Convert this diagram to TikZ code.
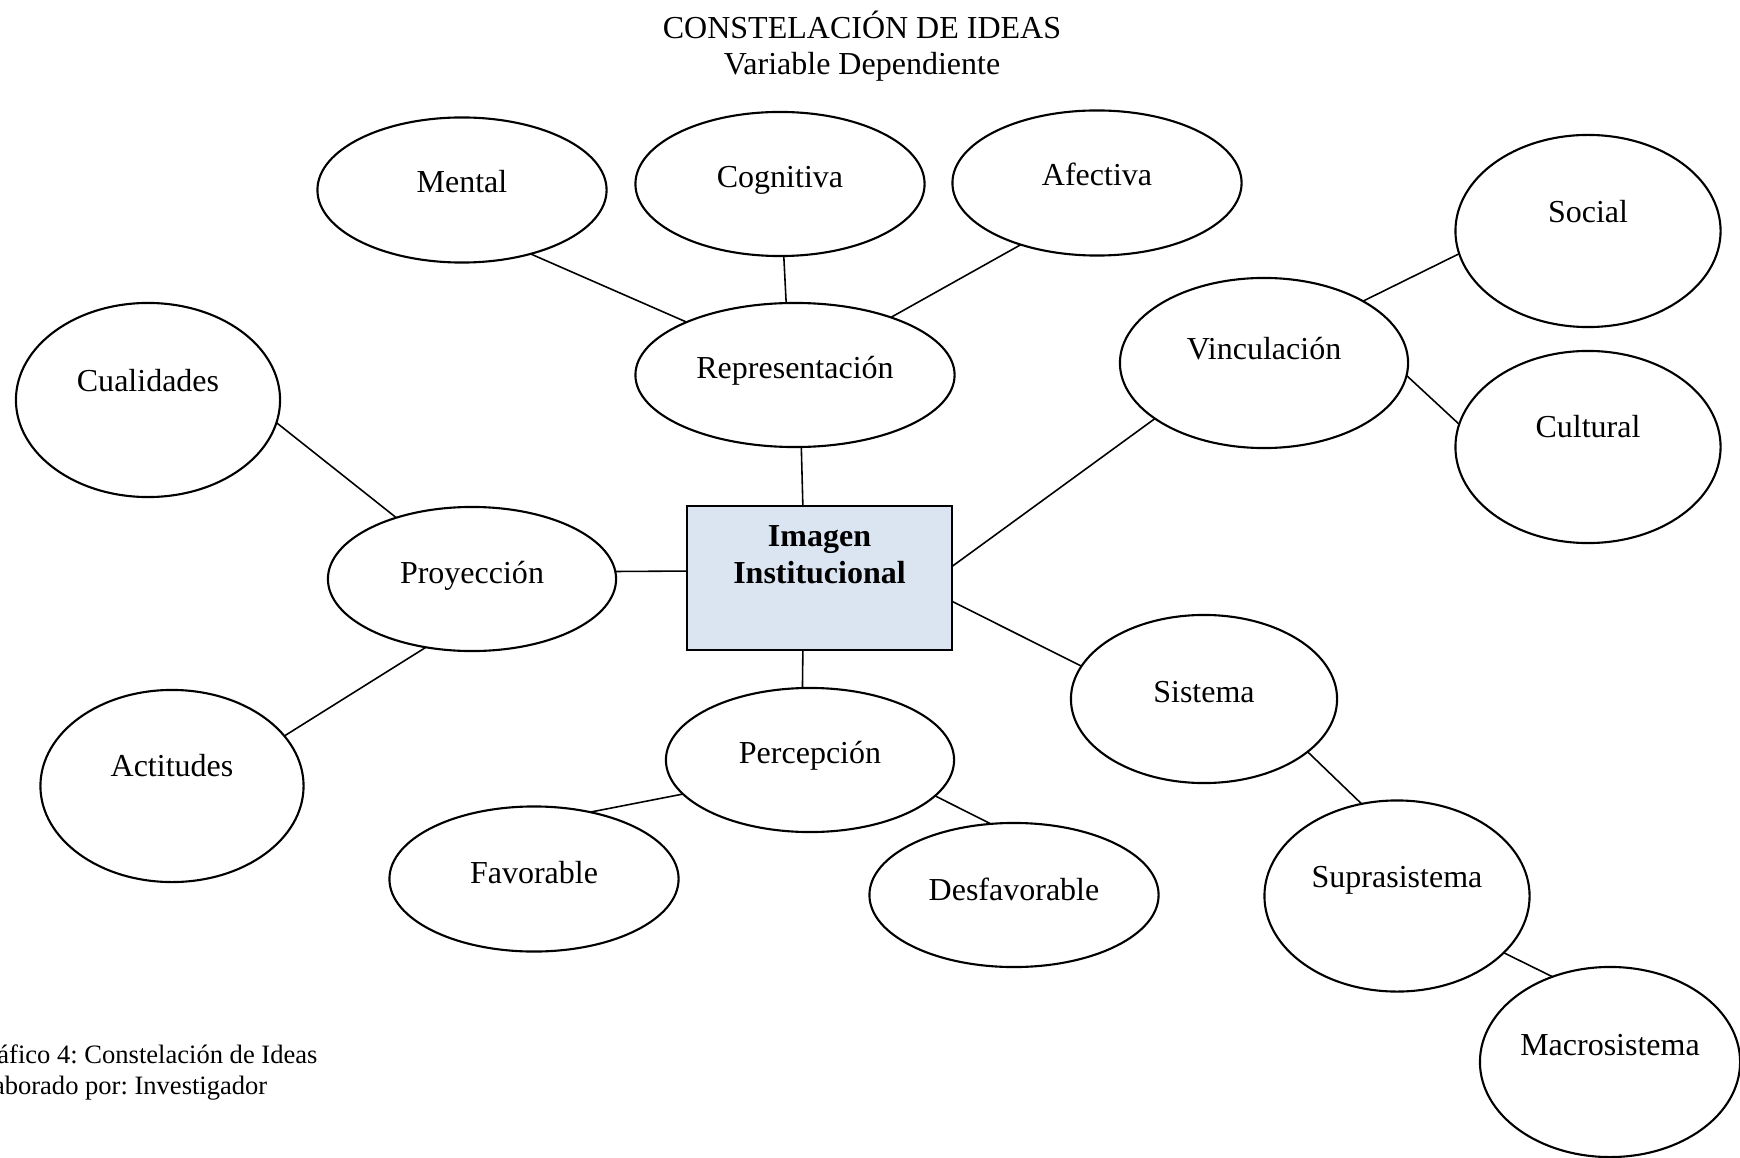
\documentclass[tikz,border=0pt]{standalone}
\usepackage{fontspec}
\setmainfont{Liberation Serif}
\usetikzlibrary{shapes.geometric}

\definecolor{boxblue}{HTML}{DBE5F1}
\frenchspacing

\begin{document}
\begin{tikzpicture}[x=0.01cm, y=-0.01cm,
  every node/.style={font=\fontsize{9.1}{11}\selectfont},
  idea/.style={draw, ellipse, line width=0.6pt, inner sep=0pt, outer sep=0pt, text height=2.2mm, text depth=#1},
  idea/.default=1.6mm,
  link/.style={line width=0.45pt}]

\useasboundingbox (0,0) rectangle (1740,1158);

\node[anchor=base] (title) at (862,39) {CONSTELACIÓN DE IDEAS};
\node[anchor=base] (subtitle) at (862,75) {Variable Dependiente};

\node[draw, rectangle, fill=boxblue, line width=0.7pt, outer sep=0pt, minimum width=2.65cm, minimum height=1.44cm, text height=2.2mm, text depth=1.2mm, font=\fontsize{9.1}{11}\selectfont\bfseries] (img) at (819.5,578) {\shortstack{Imagen\\[-0.9pt]Institucional}};

\node[idea=1.6mm, minimum width=3.19cm, minimum height=1.44cm] (repr) at (795,375) {Representación};
\node[idea=1.6mm, minimum width=2.89cm, minimum height=1.45cm] (mental) at (462,190) {Mental};
\node[idea=1.4mm, minimum width=2.89cm, minimum height=1.44cm] (cogn) at (780,184) {Cognitiva};
\node[idea=1.6mm, minimum width=2.89cm, minimum height=1.45cm] (afect) at (1097,183) {Afectiva};
\node[idea=2.8mm, minimum width=2.88cm, minimum height=1.70cm] (vinc) at (1264,363) {Vinculación};
\node[idea=3.8mm, minimum width=2.65cm, minimum height=1.92cm] (social) at (1588,231) {Social};
\node[idea=4mm, minimum width=2.65cm, minimum height=1.92cm] (cultural) at (1588,447) {Cultural};
\node[idea=1.4mm, minimum width=2.88cm, minimum height=1.44cm] (proy) at (472,579) {Proyección};
\node[idea=3.8mm, minimum width=2.64cm, minimum height=1.94cm] (cual) at (148,400) {Cualidades};
\node[idea=4.2mm, minimum width=2.63cm, minimum height=1.92cm] (actit) at (172,786) {Actitudes};
\node[idea=1.6mm, minimum width=2.88cm, minimum height=1.44cm] (percep) at (810,760) {Percepción};
\node[idea=1.4mm, minimum width=2.89cm, minimum height=1.45cm] (favor) at (534,879) {Favorable};
\node[idea=1.2mm, minimum width=2.89cm, minimum height=1.44cm] (desfav) at (1014,895) {Desfavorable};
\node[idea=1.6mm, minimum width=2.66cm, minimum height=1.68cm] (sist) at (1204,699) {Sistema};
\node[idea=4mm, minimum width=2.65cm, minimum height=1.91cm] (supra) at (1397,896) {Suprasistema};
\node[idea=3.6mm, minimum width=2.60cm, minimum height=1.90cm] (macro) at (1610,1062) {Macrosistema};

\draw[link] (mental.317) -- (repr.154);
\draw[link] (cogn.273) -- (repr.97);
\draw[link] (afect.219) -- (repr.31);
\draw[link] (repr.275) -- (img.103);
\draw[link] (proy.3) -- (img.177);
\draw[link] (cual.350) -- (proy.141);
\draw[link] (proy.236) -- (actit.24);
\draw[link] (img.257) -- (percep.96);
\draw[link] (percep.195) -- (favor.50);
\draw[link] (percep.344) -- (desfav.108);
\draw[link] (img.5) -- (vinc.207);
\draw[link] (img.350) -- (sist.165);
\draw[link] (vinc.32) -- (social.190);
\draw[link] (vinc.355) -- (cultural.170);
\draw[link] (sist.333) -- (supra.111);
\draw[link] (supra.332) -- (macro.124);

\node[anchor=base west, font=\fontsize{7.55}{9}\selectfont] (cap1) at (-43,1063) {Gráfico 4: Constelación de Ideas};
\node[anchor=base west, font=\fontsize{7.55}{9}\selectfont] (cap2) at (-43,1094) {Elaborado por: Investigador};

\end{tikzpicture}
\end{document}
